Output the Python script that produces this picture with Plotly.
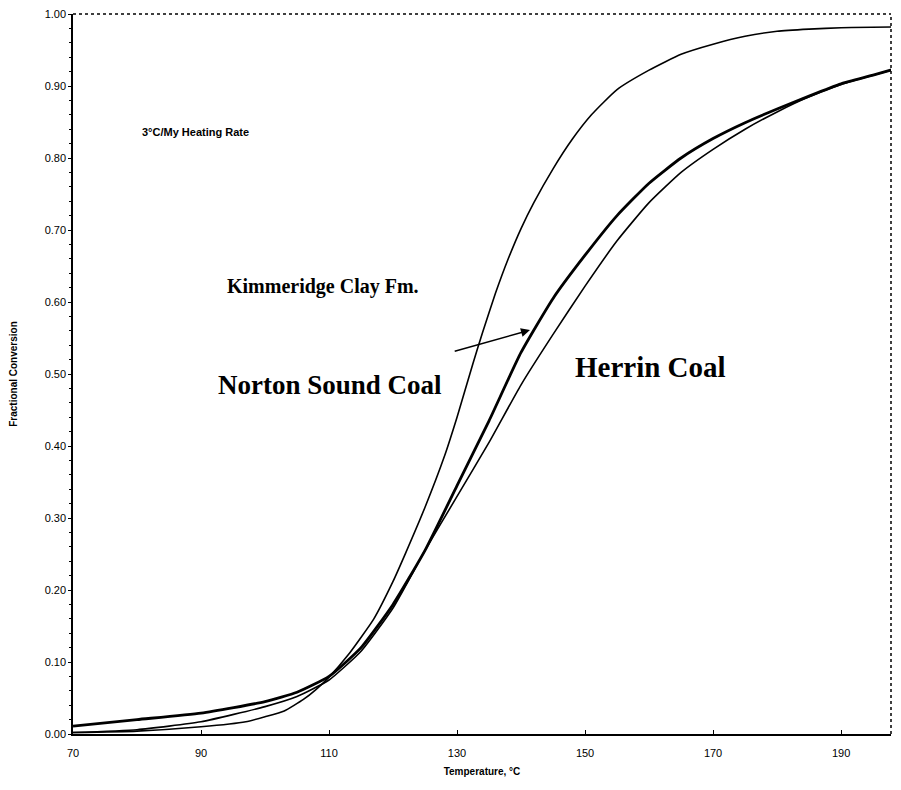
import plotly.graph_objects as go

# Temperature (°C) and fractional conversion for each sample
kim_t = [70, 80, 90, 97, 100, 103, 106, 108, 110, 113, 117, 120, 122, 125, 128, 130, 132.5, 134, 136, 138, 140, 142, 145, 148, 151, 155, 160, 165, 170, 175, 180, 185, 190, 199.3]
kim_y = [0.002, 0.004, 0.010, 0.017, 0.024, 0.032, 0.048, 0.062, 0.079, 0.110, 0.160, 0.212, 0.252, 0.315, 0.385, 0.440, 0.515, 0.558, 0.612, 0.660, 0.702, 0.738, 0.785, 0.826, 0.860, 0.895, 0.922, 0.944, 0.958, 0.969, 0.976, 0.979, 0.981, 0.982]

nor_t = [70, 80, 90, 100, 105, 110, 115, 120, 125, 130, 135, 140, 145, 150, 155, 160, 165, 170, 175, 180, 185, 190, 195, 199.3]
nor_y = [0.011, 0.020, 0.029, 0.045, 0.058, 0.080, 0.120, 0.180, 0.255, 0.345, 0.435, 0.530, 0.605, 0.665, 0.720, 0.765, 0.800, 0.827, 0.849, 0.868, 0.886, 0.903, 0.915, 0.926]

her_t = [70, 80, 90, 100, 105, 110, 115, 120, 125, 130, 135, 140, 145, 150, 155, 160, 165, 170, 175, 180, 185, 190, 195, 199.3]
her_y = [0.002, 0.006, 0.017, 0.038, 0.052, 0.075, 0.115, 0.175, 0.255, 0.330, 0.405, 0.485, 0.555, 0.622, 0.685, 0.738, 0.780, 0.812, 0.840, 0.864, 0.885, 0.902, 0.915, 0.926]

x_ticks = [70, 90, 110, 130, 150, 170, 190]
y_ticks = [0.0, 0.1, 0.2, 0.3, 0.4, 0.5, 0.6, 0.7, 0.8, 0.9, 1.0]

fig = go.Figure()
fig.add_trace(go.Scatter(x=kim_t, y=kim_y, mode="lines", name="Kimmeridge Clay Fm.",
                         line=dict(color="black", width=1.6, shape="spline", smoothing=0.5)))
fig.add_trace(go.Scatter(x=her_t, y=her_y, mode="lines", name="Herrin Coal",
                         line=dict(color="black", width=1.6, shape="spline", smoothing=0.5)))
fig.add_trace(go.Scatter(x=nor_t, y=nor_y, mode="lines", name="Norton Sound Coal",
                         line=dict(color="black", width=2.8, shape="spline", smoothing=0.5)))

serif = "Liberation Serif, Times New Roman, serif"
fig.add_annotation(x=109.0, y=0.621, text="<b>Kimmeridge Clay Fm.</b>", showarrow=False,
                   font=dict(family=serif, size=20, color="black"))
fig.add_annotation(x=110.2, y=0.485, text="<b>Norton Sound Coal</b>", showarrow=False,
                   font=dict(family=serif, size=27, color="black"))
fig.add_annotation(x=160.2, y=0.510, text="<b>Herrin Coal</b>", showarrow=False,
                   font=dict(family=serif, size=29, color="black"))
fig.add_annotation(x=89.2, y=0.836, text="<b>3°C/My Heating Rate</b>", showarrow=False,
                   font=dict(family="Liberation Sans, Arial, sans-serif", size=11, color="black"))
fig.add_annotation(x=141.4, y=0.561, ax=129.4, ay=0.531, xref="x", yref="y", axref="x", ayref="y",
                   text="", showarrow=True, arrowhead=2, arrowsize=1.2, arrowwidth=1.5, arrowcolor="black")

# dotted top and right frame
fig.add_shape(type="line", xref="paper", yref="paper", x0=0, x1=1, y0=1, y1=1,
              line=dict(color="black", width=1.5, dash="dot"))
fig.add_shape(type="line", xref="paper", yref="paper", x0=1, x1=1, y0=0, y1=1,
              line=dict(color="black", width=1.5, dash="dot"))

tick_font = dict(family="Liberation Sans, Arial, sans-serif", size=11, color="black")
title_font = dict(family="Liberation Sans, Arial, sans-serif", size=10, color="black")
fig.update_layout(
    width=885, height=770,
    margin=dict(l=65, r=2, t=6, b=44),
    paper_bgcolor="white", plot_bgcolor="white",
    showlegend=False,
    xaxis=dict(range=[70, 197.8], tickvals=x_ticks, ticktext=[str(v) for v in x_ticks],
               showgrid=False, zeroline=False, showline=True, linecolor="black", linewidth=1.5,
               ticks="inside", ticklen=4, tickcolor="black", tickfont=tick_font,
               ticklabelstandoff=8, automargin=False, ticklabeloverflow="allow",
               title=dict(text="<b>Temperature, °C</b>", font=title_font, standoff=10)),
    yaxis=dict(range=[0, 1.0], tickvals=y_ticks, tickformat=".2f",
               showgrid=False, zeroline=False, showline=True, linecolor="black", linewidth=1.5,
               ticks="outside", ticklen=3, tickcolor="black", tickfont=tick_font,
               minor=dict(dtick=0.02, ticks="outside", ticklen=2, tickcolor="black"),
               automargin=False, ticklabeloverflow="allow",
               title=dict(text="<b>Fractional Conversion</b>", font=title_font, standoff=27)),
)

fig.write_html("out.html")
